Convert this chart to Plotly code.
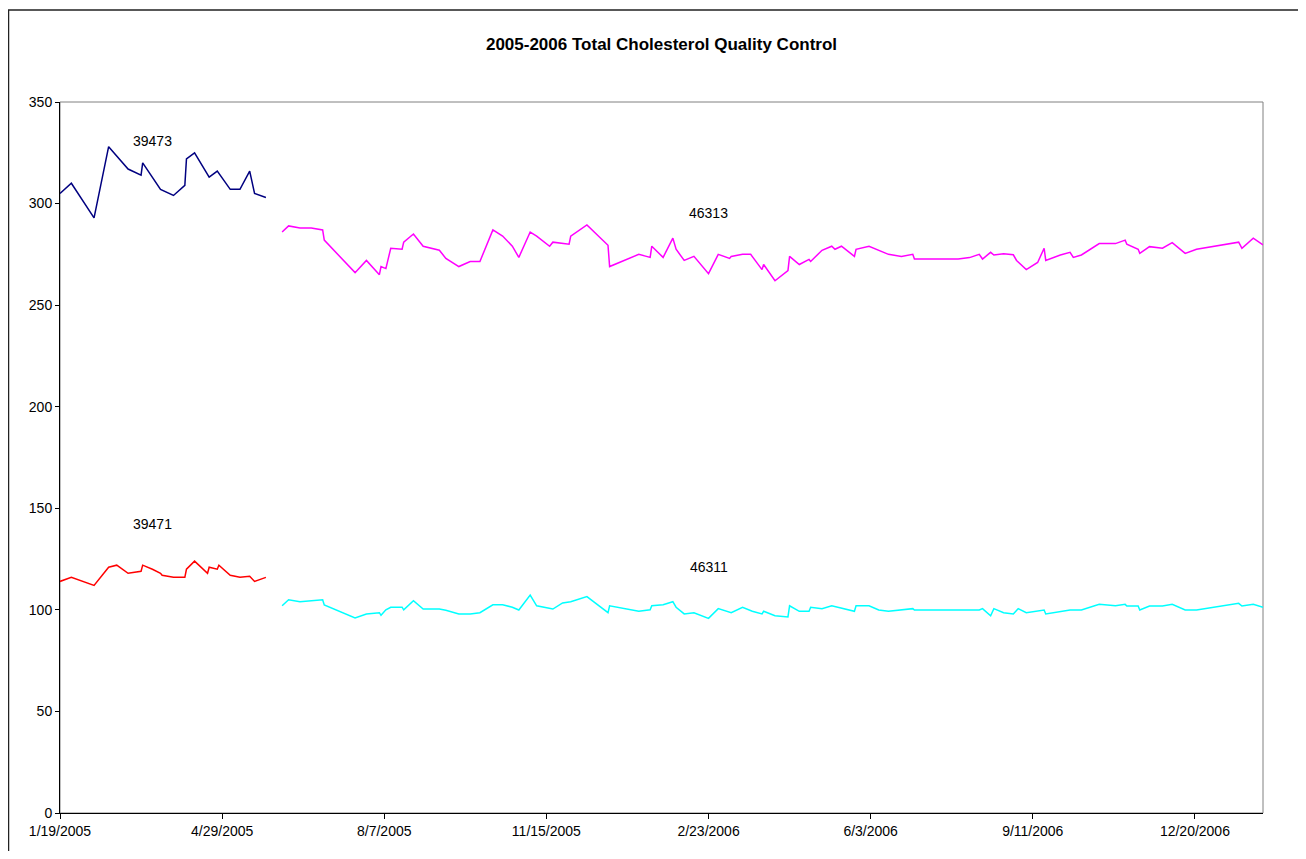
import plotly.graph_objects as go

# ---- Data ----
dates_39473 = ["2005-01-19", "2005-01-26", "2005-02-09", "2005-02-18", "2005-03-02", "2005-03-10",
               "2005-03-11", "2005-03-22", "2005-03-30", "2005-04-06", "2005-04-07", "2005-04-12",
               "2005-04-21", "2005-04-26", "2005-05-04", "2005-05-10", "2005-05-16", "2005-05-19",
               "2005-05-26"]
vals_39473 = [305, 310, 293, 328, 317, 314, 320, 307, 304, 309, 322, 325, 313, 316, 307, 307, 316, 305, 303]

dates_39471 = ["2005-01-19", "2005-01-26", "2005-02-09", "2005-02-18", "2005-02-23", "2005-03-02",
               "2005-03-10", "2005-03-11", "2005-03-17", "2005-03-22", "2005-03-23", "2005-03-30",
               "2005-04-06", "2005-04-07", "2005-04-12", "2005-04-20", "2005-04-21", "2005-04-26",
               "2005-04-27", "2005-05-04", "2005-05-10", "2005-05-16", "2005-05-19", "2005-05-26"]
vals_39471 = [114, 116, 112, 121, 122, 118, 119, 122, 120, 118, 117, 116, 116, 120, 124, 118, 121, 120,
              122, 117, 116, 116.5, 114, 116]

dates_46313 = ["2005-06-05", "2005-06-09", "2005-06-16", "2005-06-23", "2005-06-30", "2005-07-01",
               "2005-07-20", "2005-07-27", "2005-08-04", "2005-08-05", "2005-08-08", "2005-08-11",
               "2005-08-18", "2005-08-19", "2005-08-25", "2005-08-31", "2005-09-10", "2005-09-14",
               "2005-09-22", "2005-09-29", "2005-10-05", "2005-10-13", "2005-10-19", "2005-10-25",
               "2005-10-29", "2005-11-05", "2005-11-09", "2005-11-17", "2005-11-19", "2005-11-29",
               "2005-11-30", "2005-12-10", "2005-12-23", "2005-12-24", "2006-01-11", "2006-01-18",
               "2006-01-19", "2006-01-26", "2006-02-01", "2006-02-03", "2006-02-08", "2006-02-14",
               "2006-02-23", "2006-03-01", "2006-03-08", "2006-03-09", "2006-03-16", "2006-03-21",
               "2006-03-28", "2006-03-29", "2006-04-05", "2006-04-13", "2006-04-14", "2006-04-20",
               "2006-04-26", "2006-04-27", "2006-05-04", "2006-05-10", "2006-05-12", "2006-05-16",
               "2006-05-24", "2006-05-25", "2006-06-02", "2006-06-14", "2006-06-22", "2006-06-29",
               "2006-06-30", "2006-07-27", "2006-08-03", "2006-08-09", "2006-08-11", "2006-08-16",
               "2006-08-18", "2006-08-24", "2006-08-30", "2006-09-01", "2006-09-07", "2006-09-14",
               "2006-09-18", "2006-09-19", "2006-09-28", "2006-10-04", "2006-10-06", "2006-10-11",
               "2006-10-22", "2006-11-01", "2006-11-07", "2006-11-08", "2006-11-15", "2006-11-16",
               "2006-11-22", "2006-11-30", "2006-12-06", "2006-12-14", "2006-12-21", "2007-01-16",
               "2007-01-18", "2007-01-25", "2007-01-31"]
vals_46313 = [286, 289, 288, 288, 287, 282,
              266, 272, 265, 269, 268, 278,
              277.5, 281, 285, 279, 277, 273,
              269, 271.5, 271.5, 287, 284, 279,
              273.5, 286, 284, 279, 281, 280,
              284, 289.5, 279.5, 269, 275, 273.5,
              279, 273.5, 283, 277.5, 272, 274,
              265.5, 275, 273, 274, 275, 275,
              267.5, 270, 262, 267, 274, 270,
              272.5, 271.5, 277, 279, 277.5, 279,
              274, 277.5, 279, 275, 274, 275,
              272.7, 272.7, 273.4, 275, 272.7, 276,
              274.7, 275.3, 274.8, 272, 267.5, 271,
              278, 272, 274.7, 276, 273.5, 274.7,
              280.3, 280.3, 282, 280, 277.5, 275.5,
              278.8, 278, 280.8, 275.5, 277.5, 281,
              278, 283, 279.6]

dates_46311 = ["2005-06-05", "2005-06-09", "2005-06-16", "2005-06-23", "2005-06-30", "2005-07-01",
               "2005-07-20", "2005-07-27", "2005-08-04", "2005-08-05", "2005-08-08", "2005-08-11",
               "2005-08-18", "2005-08-19", "2005-08-25", "2005-08-31", "2005-09-10", "2005-09-14",
               "2005-09-22", "2005-09-29", "2005-10-05", "2005-10-13", "2005-10-19", "2005-10-25",
               "2005-10-29", "2005-11-05", "2005-11-09", "2005-11-19", "2005-11-25", "2005-11-30",
               "2005-12-10", "2005-12-23", "2005-12-24", "2006-01-11", "2006-01-18", "2006-01-19",
               "2006-01-26", "2006-02-01", "2006-02-03", "2006-02-08", "2006-02-14", "2006-02-23",
               "2006-03-01", "2006-03-09", "2006-03-16", "2006-03-22", "2006-03-28", "2006-03-29",
               "2006-04-05", "2006-04-13", "2006-04-14", "2006-04-20", "2006-04-26", "2006-04-27",
               "2006-05-04", "2006-05-10", "2006-05-16", "2006-05-24", "2006-05-25", "2006-06-02",
               "2006-06-08", "2006-06-14", "2006-06-29", "2006-06-30", "2006-07-27", "2006-08-09",
               "2006-08-11", "2006-08-16", "2006-08-18", "2006-08-24", "2006-08-30", "2006-09-02",
               "2006-09-07", "2006-09-18", "2006-09-19", "2006-10-04", "2006-10-11", "2006-10-22",
               "2006-11-01", "2006-11-07", "2006-11-08", "2006-11-15", "2006-11-16", "2006-11-22",
               "2006-11-30", "2006-12-06", "2006-12-14", "2006-12-21", "2007-01-16", "2007-01-18",
               "2007-01-25", "2007-01-31"]
vals_46311 = [102, 105, 104, 104.5, 105, 102.4,
              96, 98, 98.6, 97.3, 100, 101.3,
              101.3, 100, 104.5, 100.4, 100.4, 99.8,
              98, 98, 98.6, 102.5, 102.5, 101.3,
              99.9, 107.3, 102, 100.4, 103.4, 104,
              106.5, 98.6, 102, 99.3, 100, 102,
              102.5, 104, 101.3, 98, 98.6, 95.8,
              100.6, 98.6, 101.3, 99.3, 98, 99.3,
              97.1, 96.5, 102, 99.3, 99.3, 101.3,
              100.6, 102, 100.8, 99.3, 102, 102,
              99.9, 99.3, 100.6, 99.9, 99.9, 99.9,
              100.6, 97.1, 100.6, 98.6, 98, 100.6,
              98.6, 99.9, 98, 99.9, 99.9, 102.7,
              102, 102.7, 101.9, 101.9, 99.9, 101.9,
              101.9, 102.7, 99.9, 99.9, 103.2, 101.9,
              102.7, 101.3]

tick_dates = ["2005-01-19", "2005-04-29", "2005-08-07", "2005-11-15", "2006-02-23",
              "2006-06-03", "2006-09-11", "2006-12-20"]
tick_labels = ["1/19/2005", "4/29/2005", "8/7/2005", "11/15/2005", "2/23/2006",
               "6/3/2006", "9/11/2006", "12/20/2006"]
y_ticks = [0, 50, 100, 150, 200, 250, 300, 350]

series = [
    ("39473", dates_39473, vals_39473, "#000080"),
    ("39471", dates_39471, vals_39471, "#FF0000"),
    ("46313", dates_46313, vals_46313, "#FF00FF"),
    ("46311", dates_46311, vals_46311, "#00FFFF"),
]

label_pos = [("39473", "2005-03-17", 331), ("39471", "2005-03-17", 142.5),
             ("46313", "2006-02-23", 295.5), ("46311", "2006-02-23", 121)]

FONT = "Liberation Sans, Arial, sans-serif"
W, H = 1290, 843           # page has 8px body margin
L, R, T, B = 52, 35, 94, 38
PW, PH = W - L - R, H - T - B

fig = go.Figure()
for name, d, v, c in series:
    fig.add_trace(go.Scatter(x=d, y=v, mode="lines", name=name,
                             line=dict(color=c, width=1.5)))

for text, lx, ly in label_pos:
    fig.add_annotation(x=lx, y=ly, text=text, showarrow=False,
                       font=dict(size=14, color="#000000", family=FONT),
                       xanchor="center", yanchor="middle")

# plot area gray border
fig.add_shape(type="rect", xref="paper", yref="paper", x0=0, x1=1, y0=0, y1=1,
              line=dict(color="#808080", width=1), layer="below")
# outer chart border
fig.add_shape(type="rect", xref="paper", yref="paper",
              x0=(0.5 - L) / PW, x1=(W + 30 - L) / PW,
              y0=-(B + 30) / PH, y1=(PH + T - 2) / PH,
              line=dict(color="#222222", width=1.5), layer="below")

fig.update_layout(
    width=W, height=H,
    margin=dict(l=L, r=R, t=T, b=B),
    paper_bgcolor="white", plot_bgcolor="white",
    showlegend=False,
    font=dict(family=FONT, size=14, color="#000000"),
    title=dict(text="<b>2005-2006 Total Cholesterol Quality Control</b>",
               x=(L + PW / 2) / W, xanchor="center",
               y=1 - 36 / H, yanchor="middle",
               font=dict(size=17, family=FONT)),
    xaxis=dict(type="date", range=["2005-01-19", "2007-01-31"],
               tickvals=tick_dates, ticktext=tick_labels,
               showgrid=False, zeroline=False, showline=True, linecolor="#000000", linewidth=1,
               ticks="outside", ticklen=5, tickcolor="#000000", tickfont=dict(size=14)),
    yaxis=dict(range=[0, 350], tickvals=y_ticks,
               showgrid=False, zeroline=False, showline=True, linecolor="#000000", linewidth=1,
               ticks="outside", ticklen=4, tickcolor="#000000", tickfont=dict(size=14)),
)

fig.write_html("out.html")
